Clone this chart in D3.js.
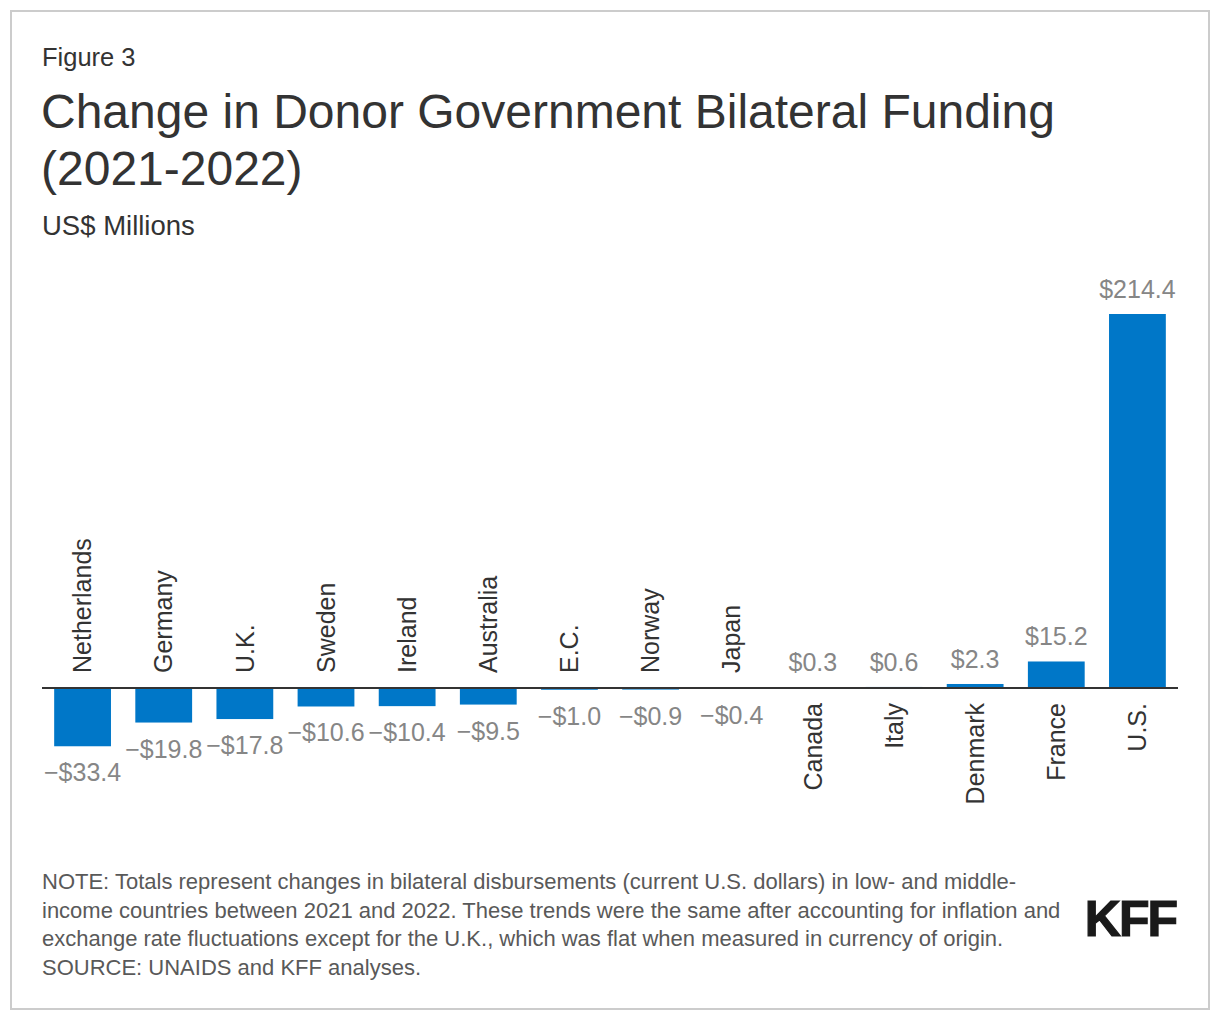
<!DOCTYPE html>
<html>
<head>
<meta charset="utf-8">
<script src="https://cdn.jsdelivr.net/npm/d3@7"></script>
<style>
  body { margin: 0; background: #fff; }
  text { font-family: "Liberation Sans", Arial, sans-serif; }
</style>
</head>
<body>
<div class="canvas"></div>
<script>
// data
const countries = ['Netherlands', 'Germany', 'U.K.', 'Sweden', 'Ireland', 'Australia', 'E.C.',
  'Norway', 'Japan', 'Canada', 'Italy', 'Denmark', 'France', 'U.S.'];
const changes = [-33.4, -19.8, -17.8, -10.6, -10.4, -9.5, -1.0, -0.9, -0.4, 0.3, 0.6, 2.3, 15.2, 214.4];
const noteLines = [
  'NOTE: Totals represent changes in bilateral disbursements (current U.S. dollars) in low- and middle-',
  'income countries between 2021 and 2022. These trends were the same after accounting for inflation and',
  'exchange rate fluctuations except for the U.K., which was flat when measured in currency of origin.',
  'SOURCE: UNAIDS and KFF analyses.'
];

const data = countries.map((c, i) => ({country: c, value: changes[i]}));

const svg = d3.select('.canvas')
  .append('svg')
    .attr('width', 1220)
    .attr('height', 1020);

// frame
svg.append('rect')
  .attr('x', 11).attr('y', 11)
  .attr('width', 1198).attr('height', 998)
  .attr('fill', '#fff')
  .attr('stroke', '#cccccc')
  .attr('stroke-width', 2);

// headings
svg.append('text').attr('x', 42).attr('y', 66)
  .attr('font-size', 25.5).attr('fill', '#333').text('Figure 3');
svg.append('text').attr('x', 41).attr('y', 128)
  .attr('font-size', 48).attr('fill', '#333').text('Change in Donor Government Bilateral Funding');
svg.append('text').attr('x', 41).attr('y', 185)
  .attr('font-size', 48).attr('fill', '#333').text('(2021-2022)');
svg.append('text').attr('x', 42).attr('y', 235)
  .attr('font-size', 27.5).attr('fill', '#333').text('US$ Millions');

// scales
const x = d3.scaleBand()
  .domain(countries)
  .range([42, 1178])
  .paddingInner(0.3)
  .paddingOuter(0.15);

const y = d3.scaleLinear()
  .domain([0, d3.max(changes)])
  .range([688, 314]);

const y0 = y(0);
const fmt = v => (v < 0 ? '\u2212$' : '$') + Math.abs(v).toFixed(1);

const graph = svg.append('g');

graph.selectAll('rect.bar')
  .data(data)
  .enter()
  .append('rect')
    .attr('class', 'bar')
    .attr('x', d => x(d.country))
    .attr('width', x.bandwidth())
    .attr('y', d => Math.min(y(d.value), y0))
    .attr('height', d => Math.abs(y(d.value) - y0))
    .attr('fill', '#0077c8');

// zero line
graph.append('line')
  .attr('x1', 42).attr('x2', 1178)
  .attr('y1', y0).attr('y2', y0)
  .attr('stroke', '#333')
  .attr('stroke-width', 2);

// value labels
graph.selectAll('text.val')
  .data(data)
  .enter()
  .append('text')
    .attr('class', 'val')
    .attr('x', d => x(d.country) + x.bandwidth() / 2)
    .attr('y', d => d.value >= 0 ? y(d.value) - 16 : y(d.value) + 35)
    .attr('text-anchor', 'middle')
    .attr('font-size', 25)
    .attr('fill', '#868686')
    .text(d => fmt(d.value));

// category labels, on the other side of the zero line
graph.selectAll('text.cat')
  .data(data)
  .enter()
  .append('text')
    .attr('class', 'cat')
    .attr('transform', d => {
      const cx = x(d.country) + x.bandwidth() / 2;
      const ty = d.value >= 0 ? y0 + 15 : y0 - 15;
      return `translate(${cx}, ${ty}) rotate(-90)`;
    })
    .attr('dy', '0.35em')
    .attr('text-anchor', d => d.value >= 0 ? 'end' : 'start')
    .attr('font-size', 25)
    .attr('fill', '#333')
    .text(d => d.country);

// notes
svg.append('g').selectAll('text')
  .data(noteLines)
  .enter()
  .append('text')
    .attr('x', 42)
    .attr('y', (d, i) => 889 + i * 28.5)
    .attr('font-size', 22)
    .attr('fill', '#595959')
    .text(d => d);

// logo
svg.append('text')
  .attr('x', 1176).attr('y', 936)
  .attr('text-anchor', 'end')
  .attr('font-size', 50)
  .attr('font-weight', 'bold')
  .attr('letter-spacing', -2)
  .attr('fill', '#1a1a1a')
  .attr('stroke', '#1a1a1a')
  .attr('stroke-width', 1.2)
  .text('KFF');
</script>
</body>
</html>
